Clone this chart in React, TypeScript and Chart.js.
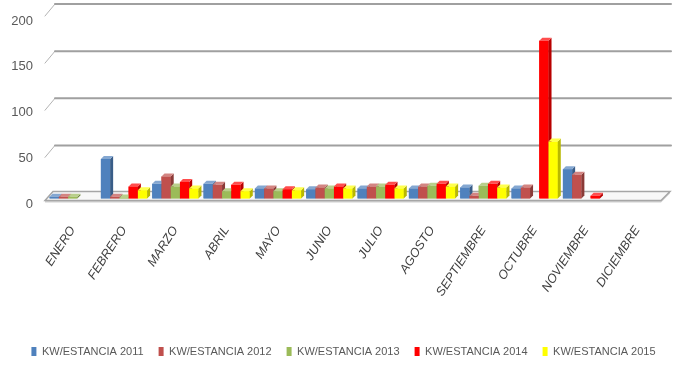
import React, { useEffect, useRef } from "react";
import { Chart, registerables } from "chart.js";

Chart.register(...registerables);

// Months on the category axis
const MONTHS = [
  "ENERO", "FEBRERO", "MARZO", "ABRIL", "MAYO", "JUNIO",
  "JULIO", "AGOSTO", "SEPTIEMBRE", "OCTUBRE", "NOVIEMBRE", "DICIEMBRE",
];

const SERIES_NAMES = [
  "KW/ESTANCIA 2011",
  "KW/ESTANCIA 2012",
  "KW/ESTANCIA 2013",
  "KW/ESTANCIA 2014",
  "KW/ESTANCIA 2015",
];

// kW per room, one value per month
const KW_2011 = [2, 43, 16, 16, 11, 10, 11, 11, 12, 11, 32, 0];
const KW_2012 = [2, 2, 24, 15, 11, 12, 13, 13, 3, 12, 26, 0];
const KW_2013 = [2, 1, 13, 8, 8, 11, 13, 14, 14, 0, 0, 0];
const KW_2014 = [0, 13, 18, 15, 10, 13, 15, 16, 16, 172, 3, 0];
const KW_2015 = [0, 9, 11, 8, 9, 11, 11, 13, 12, 62, 0, 0];

const Y_MIN = 0;
const Y_MAX = 200;
const Y_STEP = 50;

const SERIES_VALUES = [KW_2011, KW_2012, KW_2013, KW_2014, KW_2015];
const SERIES_COLORS = ["#4f81bd", "#c0504d", "#9bbb59", "#ff0000", "#ffff00"];

const FONT = "'Liberation Sans Narrow', 'Liberation Sans', sans-serif";

const BAR_DEPTH = 3; // depth of the extruded bar faces
const WALL_DX = 8; // horizontal offset of the back wall

function tint(hex: string, amt: number): string {
  const n = parseInt(hex.slice(1), 16);
  const ch = [(n >> 16) & 255, (n >> 8) & 255, n & 255];
  const f = (c: number) =>
    amt >= 0 ? Math.round(c + (255 - c) * amt) : Math.round(c * (1 + amt));
  return `rgb(${ch.map(f).join(",")})`;
}

// Back wall gridlines and the floor slab
const wallPlugin = {
  id: "wall3d",
  beforeDatasetsDraw(chart: any) {
    const { ctx, chartArea } = chart;
    const { left, right, top, bottom } = chartArea;
    const y = chart.scales.y;
    ctx.save();
    ctx.lineCap = "round";
    y.ticks.forEach((t: any) => {
      if (t.value === Y_MIN) return;
      const fy = y.getPixelForValue(t.value);
      const by = fy - 11 + ((fy - top) / (bottom - top)) * 5;
      ctx.strokeStyle = "#b3b3b3";
      ctx.lineWidth = 1;
      ctx.beginPath();
      ctx.moveTo(left - 2, by + 12);
      ctx.lineTo(left + WALL_DX, by);
      ctx.stroke();
      ctx.strokeStyle = "#a0a0a0";
      ctx.lineWidth = 2;
      ctx.beginPath();
      ctx.moveTo(left + WALL_DX, by);
      ctx.lineTo(right + WALL_DX, by);
      ctx.stroke();
    });

    // floor: top surface plus a thin front edge
    const fy0 = bottom + 2;
    const fy1 = bottom - 7;
    ctx.fillStyle = "#d0d0d0";
    ctx.beginPath();
    ctx.moveTo(left - 2, fy0);
    ctx.lineTo(right - 2, fy0);
    ctx.lineTo(right + WALL_DX - 1, fy1);
    ctx.lineTo(right + WALL_DX - 1, fy1 + 2);
    ctx.lineTo(right - 2, fy0 + 2);
    ctx.lineTo(left - 2, fy0 + 2);
    ctx.closePath();
    ctx.fill();
    ctx.fillStyle = "#f8f8f8";
    ctx.strokeStyle = "#a6a6a6";
    ctx.lineWidth = 1.5;
    ctx.beginPath();
    ctx.moveTo(left - 2, fy0);
    ctx.lineTo(right - 2, fy0);
    ctx.lineTo(right + WALL_DX - 1, fy1);
    ctx.lineTo(left + WALL_DX - 2, fy1);
    ctx.closePath();
    ctx.fill();
    ctx.stroke();
    ctx.restore();
  },
};

// Extruded bars: front, side and top faces, drawn series by series left to right
const barsPlugin = {
  id: "bars3d",
  afterDatasetsDraw(chart: any) {
    const ctx = chart.ctx;
    ctx.save();
    chart.data.datasets.forEach((ds: any, i: number) => {
      const meta = chart.getDatasetMeta(i);
      if (meta.hidden) return;
      const col = SERIES_COLORS[i];
      meta.data.forEach((el: any) => {
        const { x, y, base, width } = el.getProps(["x", "y", "base", "width"], true);
        const h = base - y;
        if (h <= 0.05) return;
        const l = x - width / 2;
        const r = x + width / 2;
        const d = BAR_DEPTH;
        ctx.fillStyle = col;
        ctx.fillRect(l, y, width, h);
        ctx.fillStyle = tint(col, -0.28);
        ctx.beginPath();
        ctx.moveTo(r, y);
        ctx.lineTo(r + d, y - d);
        ctx.lineTo(r + d, base - d);
        ctx.lineTo(r, base);
        ctx.closePath();
        ctx.fill();
        ctx.fillStyle = tint(col, 0.3);
        ctx.beginPath();
        ctx.moveTo(l, y);
        ctx.lineTo(l + d, y - d);
        ctx.lineTo(r + d, y - d);
        ctx.lineTo(r, y);
        ctx.closePath();
        ctx.fill();
      });
    });
    ctx.restore();
  },
};

// Centre the legend row under the plot
const legendShiftPlugin = {
  id: "legendShift",
  afterLayout(chart: any) {
    const lg = chart.legend;
    if (lg) {
      lg.left += 12;
      lg.right += 12;
    }
  },
};

export default function App() {
  const canvasRef = useRef<HTMLCanvasElement | null>(null);

  useEffect(() => {
    if (!canvasRef.current) return;
    const chart = new Chart(canvasRef.current, {
      type: "bar",
      data: {
        labels: MONTHS,
        datasets: SERIES_NAMES.map((name, i) => ({
          label: name,
          data: SERIES_VALUES[i],
          backgroundColor: SERIES_COLORS[i],
          borderWidth: 0,
          barPercentage: 1,
          categoryPercentage: 0.9,
        })),
      },
      options: {
        animation: false,
        responsive: true,
        maintainAspectRatio: false,
        layout: { padding: { top: 15, right: 14, bottom: 0, left: 0 } },
        plugins: {
          legend: {
            position: "bottom",
            labels: {
              boxWidth: 5,
              boxHeight: 9,
              padding: 15,
              color: "#595959",
              font: { family: FONT, size: 11 },
            },
          },
          tooltip: { enabled: false },
        },
        scales: {
          x: {
            grid: { display: false, drawTicks: false },
            border: { display: false },
            afterFit: (scale: any) => {
              scale.height = 132.5;
              scale.paddingLeft = 0;
              scale.paddingRight = 0;
            },
            ticks: {
              autoSkip: false,
              minRotation: 57,
              maxRotation: 57,
              padding: 25,
              labelOffset: 0,
              color: "#404040",
              font: { family: FONT, size: 12.5, style: "italic" },
            },
          },
          y: {
            min: Y_MIN,
            max: Y_MAX,
            grid: { display: false, drawTicks: false },
            border: { display: false },
            afterFit: (scale: any) => {
              scale.width = 47;
              scale.paddingTop = 0;
              scale.paddingBottom = 0;
            },
            ticks: {
              stepSize: Y_STEP,
              padding: 14,
              labelOffset: 6,
              color: "#595959",
              font: { family: FONT, size: 13 },
            },
          },
        },
      },
      plugins: [wallPlugin, barsPlugin, legendShiftPlugin],
    });
    return () => chart.destroy();
  }, []);

  return (
    <div style={{ position: "fixed", left: 0, top: 0, width: 677, height: 367, background: "#ffffff" }}>
      <canvas ref={canvasRef} />
    </div>
  );
}
